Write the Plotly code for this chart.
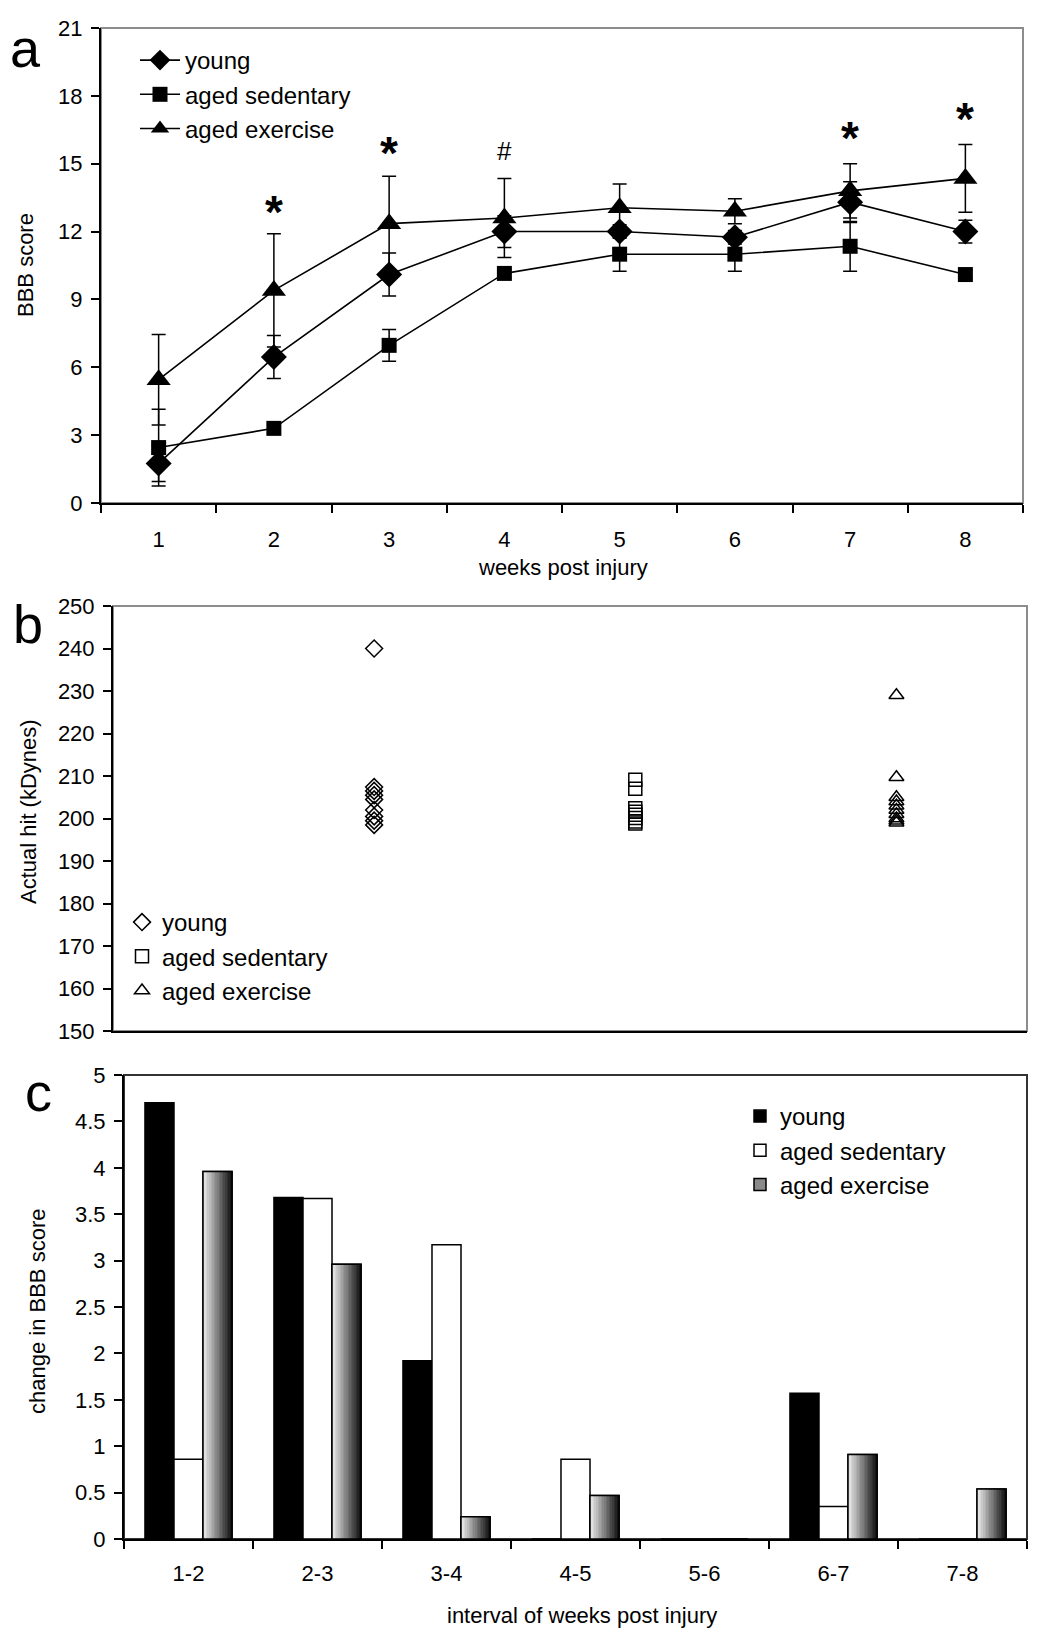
import plotly.graph_objects as go

# ---------------- data ----------------
weeks = ["1", "2", "3", "4", "5", "6", "7", "8"]
young_bbb = [1.75, 6.45, 10.1, 12.0, 12.0, 11.75, 13.3, 12.0]
young_err = [0.8, 0.95, 0.95, 0.7, 0.3, 0.3, 0.9, 0.5]
sed_bbb = [2.45, 3.3, 6.97, 10.15, 11.0, 11.0, 11.35, 10.1]
sed_err = [1.7, 0.2, 0.7, 0.2, 0.75, 0.75, 1.1, 0.2]
ex_bbb = [5.45, 9.4, 12.35, 12.6, 13.05, 12.9, 13.8, 14.35]
ex_err = [2.0, 2.5, 2.1, 1.75, 1.05, 0.55, 1.2, 1.5]
sig_weeks = ["2", "3", "4", "7", "8"]
sig_marks = ["*", "*", "#", "*", "*"]
sig_y = [13.3, 15.9, 15.55, 16.6, 17.4]

young_hit = [240, 207.4, 206.5, 205.5, 204.5, 202, 200.5, 199.5, 198.5]
sed_hit = [209.1, 207.0, 202.4, 201.6, 200.9, 200.1, 199.3, 198.8]
ex_hit = [229, 209.7, 205, 204, 203, 202, 201, 200, 199.5, 199]
group_pos = [1, 2, 3]

intervals = ["1-2", "2-3", "3-4", "4-5", "5-6", "6-7", "7-8"]
young_chg = [4.7, 3.68, 1.92, 0, 0, 1.57, 0]
sed_chg = [0.86, 3.67, 3.17, 0.86, 0, 0.35, 0]
ex_chg = [3.96, 2.96, 0.24, 0.47, 0, 0.91, 0.54]

FONT = "Liberation Sans, Arial, sans-serif"
PAGE_MARGIN = 8            # default <body> margin of the html page
W, H = 1050 - 2 * PAGE_MARGIN, 1644 - 2 * PAGE_MARGIN


def dx(px):
    return (px - PAGE_MARGIN) / W


def dy(py):
    return 1 - (py - PAGE_MARGIN) / H


fig = go.Figure()

# ---------------- panel a ----------------
eb = dict(type="data", visible=True, color="black", thickness=1.5, width=7)
for name, vals, err, sym, size in [
    ("young", young_bbb, young_err, "diamond", 20),
    ("aged sedentary", sed_bbb, sed_err, "square", 15),
    ("aged exercise", ex_bbb, ex_err, "triangle-up", 21),
]:
    fig.add_trace(go.Scatter(
        x=weeks, y=vals, name=name, mode="lines+markers",
        line=dict(color="black", width=1.6),
        marker=dict(symbol=sym, size=size, color="black"),
        error_y=dict(array=err, **eb),
        xaxis="x", yaxis="y", legend="legend",
    ))

for wk, mk, yy in zip(sig_weeks, sig_marks, sig_y):
    fig.add_annotation(
        x=weeks.index(wk), y=yy, xref="x", yref="y", text=("<b>*</b>" if mk == "*" else mk),
        showarrow=False, xanchor="center", yanchor="middle",
        font=dict(family=FONT, size=(46 if mk == "*" else 26), color="black"),
        yshift=(-10 if mk == "*" else 0),
    )

# ---------------- panel b ----------------
for name, vals, sym, xpos in [
    ("young", young_hit, "diamond-open", group_pos[0]),
    ("aged sedentary", sed_hit, "square-open", group_pos[1]),
    ("aged exercise", ex_hit, "triangle-up-open", group_pos[2]),
]:
    fig.add_trace(go.Scatter(
        x=[xpos] * len(vals), y=vals, name=name, mode="markers",
        marker=dict(symbol=sym, size=13, color="black", line=dict(width=1.5, color="black")),
        xaxis="x2", yaxis="y2", legend="legend2",
    ))

# ---------------- panel c ----------------
bw = 0.225
fig.add_trace(go.Bar(
    x=intervals, y=young_chg, name="young", width=bw, offset=-1.5 * bw,
    marker=dict(color="black", line=dict(color="black", width=1.5)),
    xaxis="x3", yaxis="y3", legend="legend3",
))
fig.add_trace(go.Bar(
    x=intervals, y=sed_chg, name="aged sedentary", width=bw, offset=-0.5 * bw,
    marker=dict(color="white", line=dict(color="black", width=1.5)),
    xaxis="x3", yaxis="y3", legend="legend3",
))
fig.add_trace(go.Bar(
    x=intervals, y=ex_chg, name="aged exercise", width=bw, offset=0.5 * bw,
    marker=dict(color="#8a8a8a", line=dict(color="black", width=1.5)),
    xaxis="x3", yaxis="y3", legend="legend3",
))
K = 18
for k in range(K):
    t = k / (K - 1)
    g = int(round(238 * (1 - t) + 22 * t))
    fig.add_trace(go.Bar(
        x=intervals, y=ex_chg, width=bw / K * 1.08, offset=0.5 * bw + k * bw / K,
        marker=dict(color=f"rgb({g},{g},{g})", line=dict(width=0)),
        showlegend=False, hoverinfo="skip",
        xaxis="x3", yaxis="y3",
    ))
fig.add_trace(go.Bar(
    x=intervals, y=ex_chg, width=bw, offset=0.5 * bw,
    marker=dict(color="rgba(0,0,0,0)", line=dict(color="black", width=1.5)),
    showlegend=False, hoverinfo="skip", xaxis="x3", yaxis="y3",
))

# ---------------- layout ----------------
tickfont = dict(family=FONT, size=22, color="black")
common_y = dict(showgrid=False, zeroline=False, showline=True, linecolor="black", linewidth=2,
                ticks="outside", ticklen=8, tickwidth=1.5, tickcolor="black", tickfont=tickfont,
                automargin=False, ticklabelstandoff=4)
common_x = dict(showgrid=False, zeroline=False, showline=True, linecolor="black", linewidth=2,
                automargin=False)

dom_a = ([dx(101), dx(1023)], [dy(503), dy(28)])
dom_b = ([dx(113), dx(1027)], [dy(1031), dy(606)])
dom_c = ([dx(124), dx(1027)], [dy(1539), dy(1075)])

leg_common = dict(xanchor="left", yanchor="top", bgcolor="rgba(0,0,0,0)",
                  font=dict(family=FONT, size=24, color="black"))

fig.update_layout(
    width=W, height=H, margin=dict(l=0, r=0, t=0, b=0, autoexpand=False),
    paper_bgcolor="white", plot_bgcolor="white",
    font=dict(family=FONT, color="black"),
    barmode="overlay",
    xaxis=dict(domain=dom_a[0], anchor="y", type="category", range=[-0.5, 7.5],
               tickson="boundaries", ticks="outside", ticklen=8, tickwidth=1.5, tickcolor="black",
               tickfont=tickfont, ticklabelstandoff=16, **common_x),
    yaxis=dict(domain=dom_a[1], anchor="x", range=[0, 21], tickvals=list(range(0, 22, 3)), **common_y),
    xaxis2=dict(domain=dom_b[0], anchor="y2", range=[0, 3.5], showticklabels=False, ticks="", **common_x),
    yaxis2=dict(domain=dom_b[1], anchor="x2", range=[150, 250], dtick=10, **common_y),
    xaxis3=dict(domain=dom_c[0], anchor="y3", type="category", range=[-0.5, 6.5],
                tickson="boundaries", ticks="outside", ticklen=8, tickwidth=1.5, tickcolor="black",
                tickfont=tickfont, ticklabelstandoff=14, **common_x),
    yaxis3=dict(domain=dom_c[1], anchor="x3", range=[0, 5], dtick=0.5, **common_y),
    legend=dict(x=dx(135), y=dy(38), itemwidth=40, **leg_common),
    legend2=dict(x=dx(122), y=dy(900), itemwidth=30, **leg_common),
    legend3=dict(x=dx(740), y=dy(1094), itemwidth=30, **leg_common),
    showlegend=True,
)

# plot-area frames (Excel style)
for xr, yr, col in [("x domain", "y domain", "#8c8c8c"), ("x2 domain", "y2 domain", "#8c8c8c"),
                    ("x3 domain", "y3 domain", "#333333")]:
    fig.add_shape(type="rect", xref=xr, yref=yr, x0=0, x1=1, y0=0, y1=1,
                  line=dict(color=col, width=2), layer="below")

# titles & panel letters
ann_font = dict(family=FONT, size=22, color="black")
titles = [
    ("BBB score", 26, 265, -90),
    ("weeks post injury", 563, 567, 0),
    ("Actual hit (kDynes)", 29, 812, -90),
    ("change in BBB score", 37, 1312, -90),
    ("interval of weeks post injury", 582, 1615, 0),
]
for txt, px, py, ang in titles:
    fig.add_annotation(x=dx(px), y=dy(py), xref="paper", yref="paper", text=txt,
                       textangle=ang, showarrow=False, xanchor="center", yanchor="middle",
                       font=ann_font)
letter_font = dict(family=FONT, size=54, color="black")
for txt, px, py in [("a", 9, 48), ("b", 12, 624), ("c", 24, 1092)]:
    fig.add_annotation(x=dx(px), y=dy(py), xref="paper", yref="paper", text=txt,
                       showarrow=False, xanchor="left", yanchor="middle", font=letter_font,
                       borderpad=0)

fig.write_html("out.html")
